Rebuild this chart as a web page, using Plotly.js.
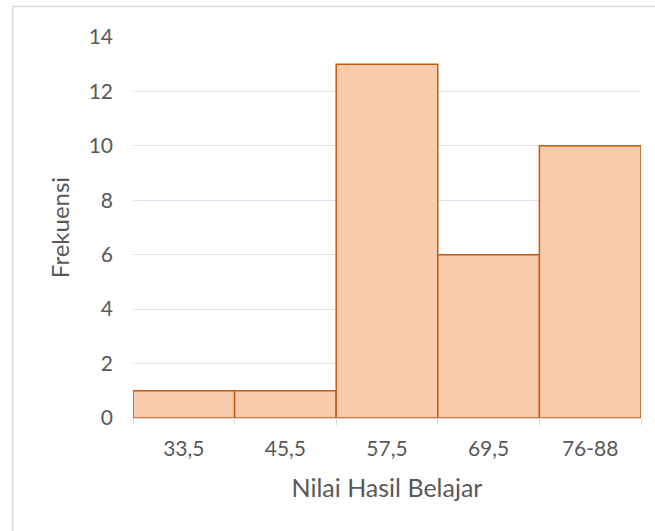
<!DOCTYPE html>
<html>
<head>
<meta charset="utf-8">
<script src="https://cdn.plot.ly/plotly-3.0.1.min.js"></script>
<style>html,body{margin:0;padding:0;background:#fff;}#chart{width:655px;height:531px;}</style>
</head>
<body>
<div id="chart"></div>
<script>
const categories = ["33,5", "45,5", "57,5", "69,5", "76-88"];
const frequencies = [1, 1, 13, 6, 10];
const yTicks = [0, 2, 4, 6, 8, 10, 12, 14];

const trace = {
  type: "bar",
  x: categories,
  y: frequencies,
  marker: { color: "#F8CBAD", line: { color: "#C55A11", width: 1.5 } },
  hoverinfo: "x+y"
};

const layout = {
  width: 655,
  height: 531,
  margin: { l: 133, r: 14, t: 37, b: 113 },
  paper_bgcolor: "#fff",
  plot_bgcolor: "#fff",
  bargap: 0,
  showlegend: false,
  font: { family: "Lato, 'Open Sans', sans-serif", color: "#595959", size: 20 },
  xaxis: {
    type: "category",
    showline: true,
    linecolor: "#D9D9D9",
    linewidth: 1,
    ticks: "outside",
    tickson: "boundaries",
    ticklen: 6,
    tickcolor: "#D9D9D9",
    showgrid: false,
    ticklabelstandoff: 12,
    tickfont: { size: 21, color: "#595959" },
    title: { text: "Nilai Hasil Belajar", font: { size: 25, color: "#595959" }, standoff: 20 }
  },
  yaxis: {
    range: [0, 14],
    tickvals: yTicks,
    showline: false,
    zeroline: false,
    gridcolor: "#DCE3F0",
    gridwidth: 1,
    ticks: "",
    ticklabelstandoff: 19,
    tickfont: { size: 21, color: "#595959" },
    title: { text: "Frekuensi", font: { size: 24, color: "#595959" }, standoff: 12 }
  },
  shapes: [
    { type: "line", xref: "paper", yref: "paper", x0: -0.2372, x1: 1.2, y0: 1.0801, y1: 1.0801, line: { color: "#D9D9D9", width: 1.5 }, layer: "below" },
    { type: "line", xref: "paper", yref: "paper", x0: -0.2372, x1: -0.2372, y0: 1.0801, y1: -0.4, line: { color: "#D9D9D9", width: 1.5 }, layer: "below" }
  ]
};

Plotly.newPlot("chart", [trace], layout, { displayModeBar: false, staticPlot: true });
</script>
</body>
</html>
